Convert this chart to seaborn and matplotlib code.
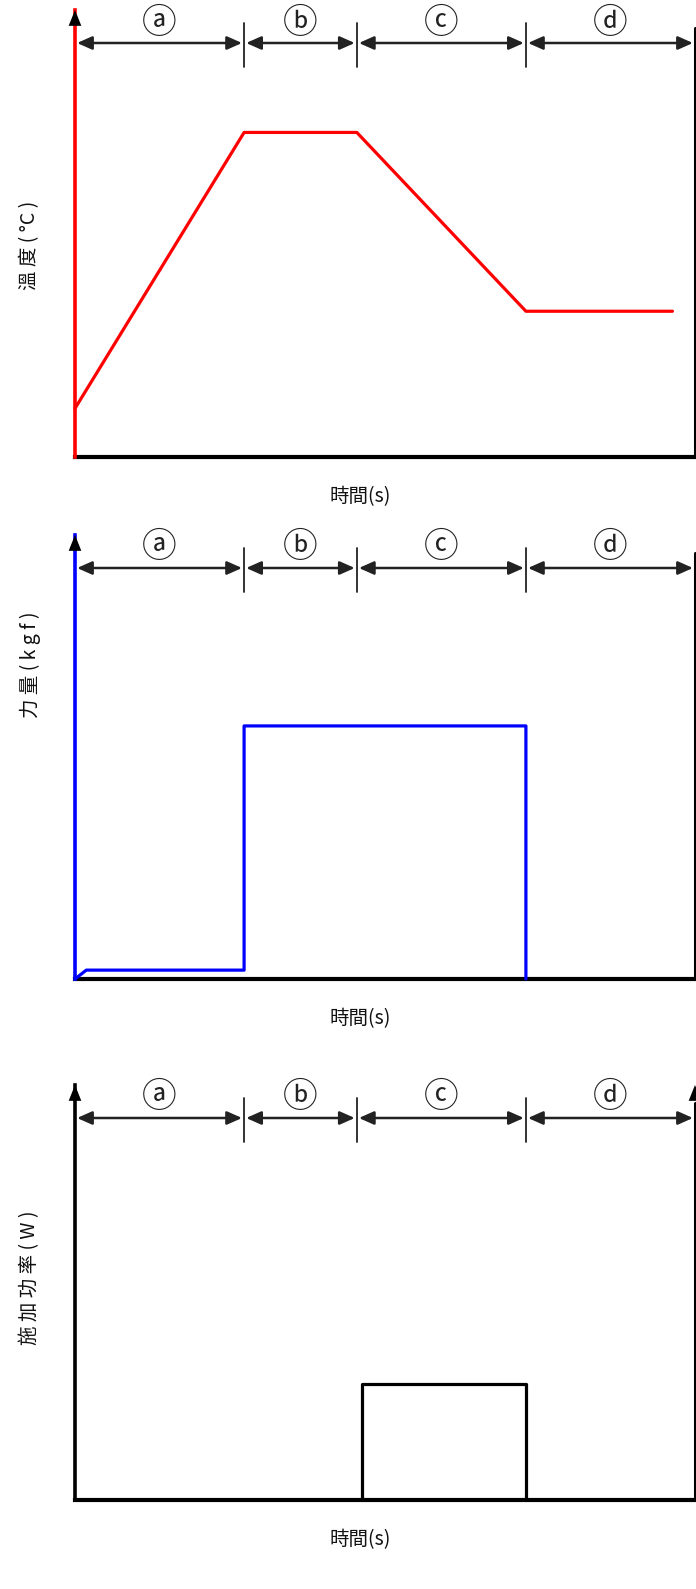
import matplotlib
matplotlib.use("Agg")
import matplotlib.pyplot as plt
import matplotlib.transforms as mtransforms
import seaborn as sns

# Process phases (time boundaries, s) and their labels
phase_bounds = [0.0, 3.0, 5.0, 8.0, 11.0]
phase_labels = ["ⓐ", "ⓑ", "ⓒ", "ⓓ"]

# Temperature profile
temp_t = [0.0, 3.0, 5.0, 8.0, 10.6]
temp_v = [25, 167, 167, 75, 75]

# Bonding force profile
force_t = [0.0, 0.2, 3.0, 3.0, 8.0, 8.0]
force_v = [0, 2, 2, 57, 57, 0]

# Applied power profile
power_t = [5.1, 5.1, 8.0, 8.0]
power_v = [0, 28, 28, 0]

x_label = "時間(s)"
y_labels = ["溫 度 ( °C )", "力 量 ( k g f )", "施 加 功 率 ( W )"]

sns.set_style("white")
FAMS = ["Noto Sans CJK TC", "DejaVu Sans"]
plt.rcParams["font.family"] = FAMS

W, H = 696, 1589
fig = plt.figure(figsize=(W / 100, H / 100), dpi=100)
fig.patch.set_facecolor("white")

# panel geometry in pixels: (bottom axis y, top arrow tip y)
panels = [(457, 10), (979, 535), (1500, 1085)]
x_left, x_right = 75, 695

series = [
    (temp_t, temp_v, "#ff0000", 230, 245),
    (force_t, force_v, "#0000ff", 100, 665),
    (power_t, power_v, "black", 100, 1278),
]

for i, ((yb, yt), (t, v, col, ymax, ylab_px)) in enumerate(zip(panels, series)):
    ax = fig.add_axes([x_left / W, 1 - yb / H, (x_right - x_left) / W, (yb - yt) / H])
    ax.set_xlim(phase_bounds[0], phase_bounds[-1])
    ax.set_ylim(0, ymax)
    ax.set_xticks([])
    ax.set_yticks([])
    for s in ["top", "right"]:
        ax.spines[s].set_visible(False)
    ax.spines["left"].set_color(col)
    ax.spines["left"].set_linewidth(2.6)
    ax.spines["bottom"].set_color("black")
    ax.spines["bottom"].set_linewidth(3.0)
    ax.spines["left"].set_zorder(3)

    sns.lineplot(x=t, y=v, ax=ax, color=col, linewidth=2.3, sort=False,
                 estimator=None, clip_on=False, zorder=4)
    ax.set_xlabel("")
    ax.set_ylabel("")

    ph = yb - yt
    f = lambda px: (yb - px) / ph  # pixel y -> axes fraction
    trans = mtransforms.blended_transform_factory(ax.transData, ax.transAxes)

    # y-axis arrowhead
    ax.annotate("", xy=(0, 1.0), xytext=(0, f(yt + 22)), xycoords="axes fraction",
                arrowprops=dict(arrowstyle="-|>,head_length=0.95,head_width=0.38",
                                color="black", lw=0, mutation_scale=12,
                                shrinkA=0, shrinkB=0), annotation_clip=False, zorder=6)

    # right boundary line
    ax.plot([phase_bounds[-1], phase_bounds[-1]], [0, f(yt + 18)], transform=trans,
            color="black", lw=2.2, clip_on=False, zorder=3)
    if i == 2:
        ax.annotate("", xy=(phase_bounds[-1], 1.0), xytext=(phase_bounds[-1], f(yt + 22)),
                    xycoords=trans,
                    arrowprops=dict(arrowstyle="-|>,head_length=0.95,head_width=0.38",
                                    color="black", lw=0, mutation_scale=12,
                                    shrinkA=0, shrinkB=0), annotation_clip=False)

    # phase dimension lines
    y_dim = f(yt + 33)
    y_lab = f(yt + 13)
    for k in range(4):
        x0, x1 = phase_bounds[k], phase_bounds[k + 1]
        ax.annotate("", xy=(x1, y_dim), xytext=(x0, y_dim), xycoords=trans,
                    arrowprops=dict(arrowstyle="<|-|>,head_length=0.9,head_width=0.4",
                                    color="#222222", lw=1.8, mutation_scale=10,
                                    shrinkA=1.5, shrinkB=1.5),
                    annotation_clip=False)
        ax.text((x0 + x1) / 2, y_lab, phase_labels[k], transform=trans,
                ha="center", va="center", fontsize=25, color="#222222",
                family=FAMS)
    for b in phase_bounds[1:-1]:
        ax.plot([b, b], [f(yt + 57), f(yt + 13)], transform=trans,
                color="#222222", lw=1.3, clip_on=False)

    # axis titles
    fig.text(360 / W, 1 - (yb + 40) / H, x_label, ha="center", va="center",
             fontsize=14, color="#111111", family=FAMS)
    fig.text(30 / W, 1 - ylab_px / H, y_labels[i], ha="center", va="center",
             rotation=90, fontsize=14, color="#111111", family=FAMS)

fig.savefig("out.png", dpi=100, facecolor="white")
